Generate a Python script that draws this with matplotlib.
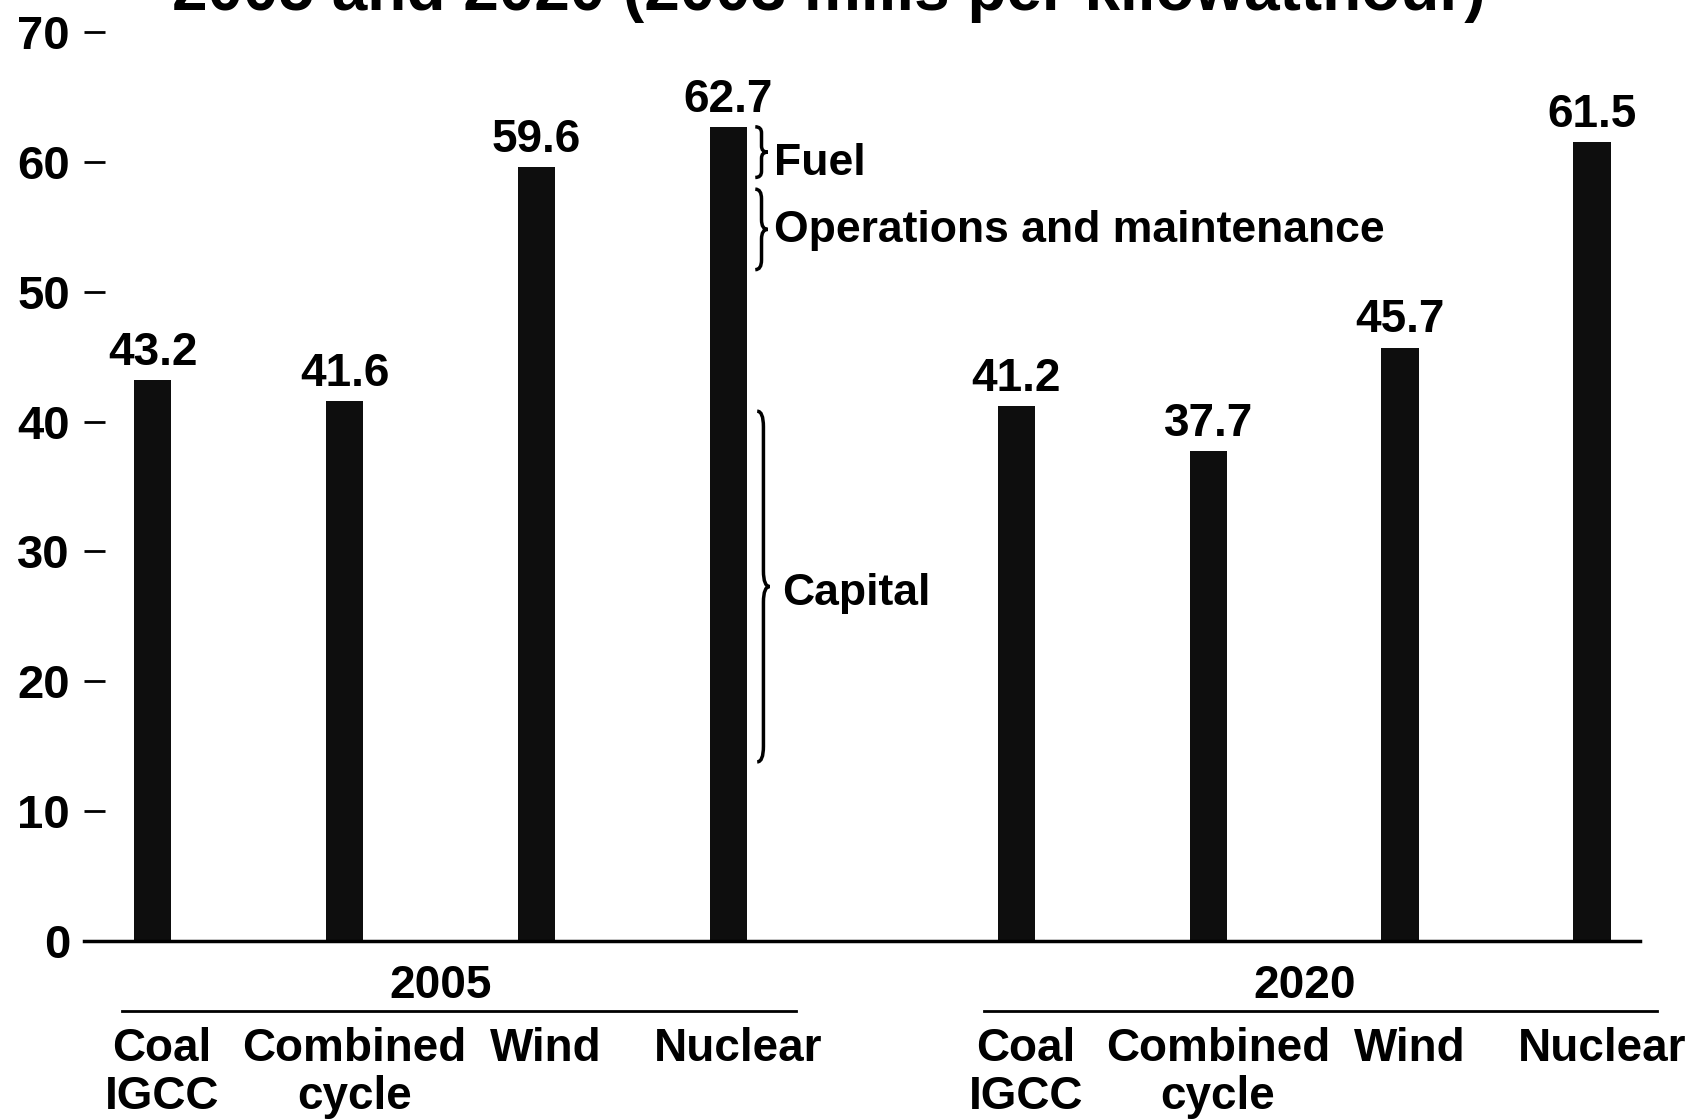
import matplotlib
matplotlib.use('Agg')
import matplotlib.pyplot as plt
from matplotlib.path import Path
from matplotlib.patches import PathPatch
import matplotlib.transforms as mtransforms

plt.rcParams.update({
    'font.family': ['Liberation Sans', 'DejaVu Sans'],
    'font.weight': 'bold',
    'font.size': 33,
})

# data
groups = ['2005', '2020']
categories = ['Coal\nIGCC', 'Combined\ncycle', 'Wind', 'Nuclear']
values_2005 = [43.2, 41.6, 59.6, 62.7]
values_2020 = [41.2, 37.7, 45.7, 61.5]
yticks = [0, 10, 20, 30, 40, 50, 60, 70]

# cost components marked with braces next to 2005 nuclear bar
component_labels = ['Fuel', 'Operations and maintenance', 'Capital']
component_spans = [(58.8, 62.7), (51.7, 57.9), (13.8, 40.8)]

title = '2005 and 2020 (2003 mills per kilowatthour)'

BAR = '#0e0e0e'
pos_2005 = [0, 1, 2, 3]
pos_2020 = [4.5, 5.5, 6.5, 7.5]

fig = plt.figure(figsize=(16.99, 11.19), dpi=100)
ax = fig.add_axes([0.0494, 0.159, 0.9159, 0.8124])

for pos, vals in [(pos_2005, values_2005), (pos_2020, values_2020)]:
    ax.bar(pos, vals, width=0.195, color=BAR, zorder=2)
    for p, v in zip(pos, vals):
        ax.annotate(f'{v:.1f}', xy=(p, v), xytext=(0, 11), textcoords='offset points',
                    ha='center', va='baseline', fontsize=33, fontweight='bold')

ax.set_xlim(-0.358, 7.75)
ax.set_ylim(0, 70)
ax.set_yticks(yticks)
ax.set_xticks([])
for s in ['top', 'right', 'left']:
    ax.spines[s].set_visible(False)
ax.spines['bottom'].set_linewidth(2.5)
ax.tick_params(axis='y', direction='in', length=15, width=2, pad=10, labelsize=34)
for lab in ax.get_yticklabels():
    lab.set_fontweight('bold')

# group and category labels under the axis
trans = mtransforms.blended_transform_factory(ax.transData, ax.transAxes)
for g, pos, (x0, x1) in [(groups[0], pos_2005, (-0.16, 3.35)), (groups[1], pos_2020, (4.33, 7.84))]:
    ax.text((pos[0] + pos[-1]) / 2, -0.049, g, transform=trans, ha='center', va='center',
            fontsize=33, fontweight='bold')
    ax.plot([x0, x1], [-0.077, -0.077], transform=trans, color='black', lw=2, clip_on=False)
    for p, c in zip(pos, categories):
        ax.text(p + 0.05, -0.094, c, transform=trans, ha='center', va='top', fontsize=33,
                fontweight='bold', linespacing=1.12)


def brace(x, y0, y1, w):
    ym = (y0 + y1) / 2
    r = min((y1 - y0) * 0.12, 1.2)
    xm = x + w / 2
    verts = [(x, y0), (xm, y0), (xm, y0 + r),
             (xm, ym - r), (xm, ym), (x + w, ym),
             (xm, ym), (xm, ym + r),
             (xm, y1 - r), (xm, y1), (x, y1)]
    codes = [Path.MOVETO, Path.CURVE3, Path.CURVE3,
             Path.LINETO, Path.CURVE3, Path.CURVE3,
             Path.CURVE3, Path.CURVE3,
             Path.LINETO, Path.CURVE3, Path.CURVE3]
    ax.add_patch(PathPatch(Path(verts, codes), fill=False, lw=2.5, color='black',
                           clip_on=False, zorder=3))


brace_x = [3.14, 3.14, 3.15]
text_x = [3.24, 3.24, 3.28]
text_y = [59.9, 54.7, 26.8]
for lab, (y0, y1), bx, tx, ty in zip(component_labels, component_spans, brace_x, text_x, text_y):
    brace(bx, y0, y1, 0.065)
    ax.text(tx, ty, lab, ha='left', va='center', fontsize=32, fontweight='bold')

fig.text(0.488, 1 - 10 / 1119, title, ha='center', va='baseline', fontsize=46,
         fontweight='bold')

fig.savefig('out.png', dpi=100)
